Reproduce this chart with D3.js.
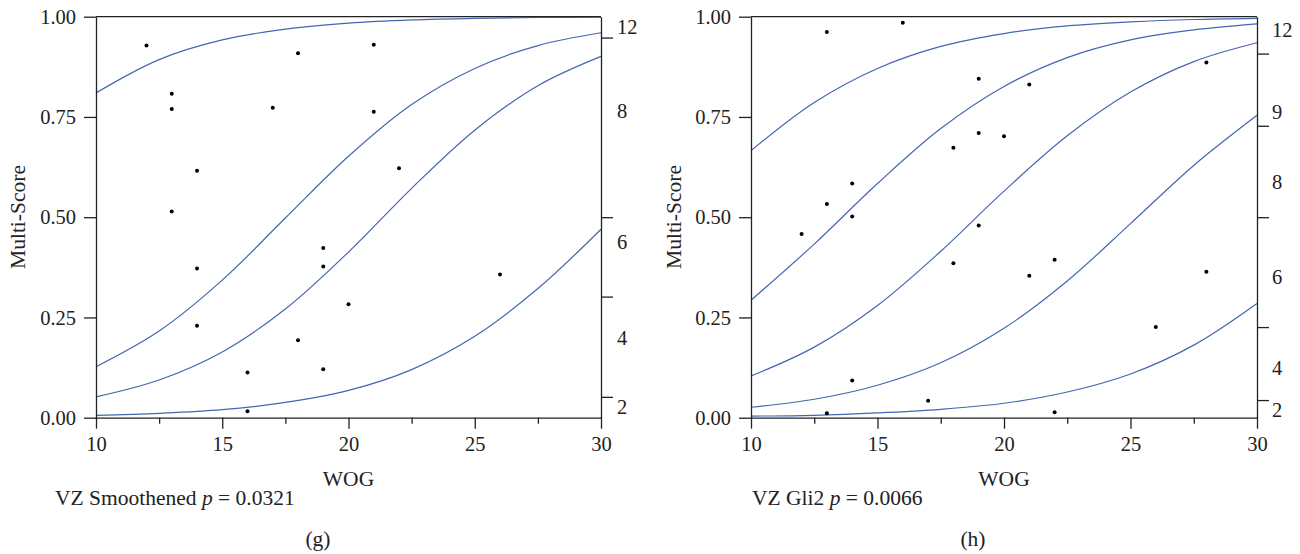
<!DOCTYPE html>
<html>
<head>
<meta charset="utf-8">
<script src="https://cdn.jsdelivr.net/npm/d3@7"></script>
<style>
  body { margin: 0; background: #fff; }
  text { font-family: "Liberation Serif", "DejaVu Serif", serif; fill: #222; }
</style>
</head>
<body>
<div id="chart"></div>
<script>
// shared axis values
const wogTicks = [10, 15, 20, 25, 30];
const wogMinor = [12.5, 17.5, 22.5, 27.5];
const scoreTicks = [0, 0.25, 0.5, 0.75, 1];
const curveX = [10, 12.5, 15, 17.5, 20, 22.5, 25, 27.5, 30];

// panel (g): VZ Smoothened
const gWog = [12, 13, 13, 13, 14, 14, 14, 16, 16, 17, 18, 18, 19, 19, 19, 20, 21, 21, 22, 26];
const gScore = [0.928, 0.808, 0.770, 0.514, 0.616, 0.372, 0.229, 0.113, 0.016, 0.773,
                0.909, 0.193, 0.423, 0.377, 0.121, 0.283, 0.930, 0.763, 0.622, 0.357];
const gCurves = [
    [0.810, 0.893, 0.942, 0.969, 0.984, 0.992, 0.996, 0.998, 0.999],
    [0.127, 0.216, 0.343, 0.498, 0.652, 0.781, 0.871, 0.928, 0.960],
    [0.052, 0.094, 0.164, 0.271, 0.413, 0.572, 0.717, 0.828, 0.901],
    [0.006, 0.011, 0.020, 0.038, 0.068, 0.120, 0.203, 0.322, 0.470]
];
const gRightTicks = [0.948, 0.5, 0.302, 0.052];
const gRightLabelPos = [0.974, 0.766, 0.438, 0.200, 0.027];
const gRightLabels = ["12", "8", "6", "4", "2"];

// panel (h): VZ Gli2
const hWog = [12, 13, 13, 13, 14, 14, 14, 16, 17, 18, 18, 19, 19, 19, 20, 21, 21, 22, 22, 26, 28, 28];
const hScore = [0.458, 0.962, 0.533, 0.011, 0.584, 0.502, 0.093, 0.985, 0.042, 0.673, 0.385,
                0.845, 0.710, 0.479, 0.702, 0.831, 0.354, 0.394, 0.0135, 0.226, 0.886, 0.364];
const hCurves = [
    [0.666, 0.786, 0.871, 0.926, 0.958, 0.977, 0.987, 0.993, 0.996],
    [0.293, 0.433, 0.584, 0.721, 0.826, 0.898, 0.942, 0.967, 0.982],
    [0.104, 0.176, 0.280, 0.415, 0.565, 0.703, 0.812, 0.888, 0.935],
    [0.026, 0.046, 0.081, 0.137, 0.223, 0.341, 0.484, 0.629, 0.754],
    [0.004, 0.006, 0.012, 0.021, 0.036, 0.064, 0.109, 0.181, 0.285]
];
const hRightTicks = [0.908, 0.728, 0.5, 0.226, 0.044];
const hRightLabelPos = [0.966, 0.762, 0.587, 0.352, 0.123, 0.019];
const hRightLabels = ["12", "9", "8", "6", "4", "2"];

const svg = d3.select('#chart')
    .append('svg')
    .attr('width', 1300)
    .attr('height', 554);

svg.append('rect').attr('width', 1300).attr('height', 554).attr('fill', '#fff');

const tickFont = 20.5;
const titleFont = 21.5;

function drawPanel(opt) {
    const x = d3.scaleLinear().domain([10, 30]).range([opt.left, opt.right]);
    const y = d3.scaleLinear().domain([0, 1]).range([417.7, 16.7]);
    const g = svg.append('g');

    // curves
    const line = d3.line()
        .x((d, i) => x(curveX[i]))
        .y(d => y(d))
        .curve(d3.curveCatmullRom.alpha(0.5));

    g.selectAll('.curve')
        .data(opt.curves)
        .enter()
        .append('path')
        .attr('class', 'curve')
        .attr('d', line)
        .attr('fill', 'none')
        .attr('stroke', '#4466b0')
        .attr('stroke-width', 1.2);

    // points
    g.selectAll('.dot')
        .data(opt.wog.map((w, i) => ({ w: w, s: opt.score[i] })))
        .enter()
        .append('circle')
        .attr('class', 'dot')
        .attr('cx', d => x(d.w))
        .attr('cy', d => y(d.s))
        .attr('r', 2)
        .attr('fill', '#000');

    // frame top
    g.append('line')
        .attr('x1', x(10)).attr('x2', x(30))
        .attr('y1', y(1)).attr('y2', y(1))
        .attr('stroke', '#222').attr('stroke-width', 1.3);

    // bottom axis
    g.append('g')
        .attr('transform', `translate(0,${y(0)})`)
        .call(d3.axisBottom(x).tickValues(wogTicks).tickSize(11).tickSizeOuter(0).tickPadding(8));
    g.append('g')
        .attr('transform', `translate(0,${y(0)})`)
        .call(d3.axisBottom(x).tickValues(wogMinor).tickSize(6).tickFormat(''))
        .select('.domain').remove();

    // left axis
    g.append('g')
        .attr('transform', `translate(${x(10)},0)`)
        .call(d3.axisLeft(y).tickValues(scoreTicks).tickFormat(d3.format('.2f'))
            .tickSize(12).tickSizeOuter(0).tickPadding(8));

    // right axis: ticks and level labels
    g.append('g')
        .attr('transform', `translate(${x(30)},0)`)
        .call(d3.axisRight(y).tickValues(opt.rightTicks).tickSize(12).tickSizeOuter(0).tickFormat(''));
    const rLabels = g.append('g')
        .attr('transform', `translate(${x(30)},0)`)
        .call(d3.axisRight(y).tickValues(opt.rightLabelPos).tickSize(0).tickPadding(opt.rightPad)
            .tickFormat((d, i) => opt.rightLabels[i]));
    rLabels.select('.domain').remove();

    g.selectAll('.domain, .tick line')
        .attr('stroke', '#222')
        .attr('stroke-width', 1.3);
    g.selectAll('.tick text')
        .style('font-family', '"Liberation Serif", serif')
        .style('font-size', tickFont + 'px')
        .attr('fill', '#222');

    // axis titles
    g.append('text')
        .attr('x', x(20))
        .attr('y', 486)
        .style('text-anchor', 'middle')
        .style('font-size', titleFont + 'px')
        .text('WOG');

    g.append('text')
        .attr('transform', 'rotate(-90)')
        .attr('x', -217)
        .attr('y', opt.yTitleX)
        .style('text-anchor', 'middle')
        .style('font-size', titleFont + 'px')
        .text('Multi-Score');

    // caption with italic p
    const cap = g.append('text')
        .attr('x', opt.capX)
        .attr('y', 505)
        .style('font-size', titleFont + 'px');
    cap.append('tspan').text(opt.capName + ' ');
    cap.append('tspan').style('font-style', 'italic').text('p');
    cap.append('tspan').text(' = ' + opt.pValue);

    g.append('text')
        .attr('x', opt.tagX)
        .attr('y', 546)
        .style('text-anchor', 'middle')
        .style('font-size', titleFont + 'px')
        .text(opt.tag);
}

drawPanel({
    left: 96, right: 601,
    curves: gCurves, wog: gWog, score: gScore,
    rightTicks: gRightTicks, rightLabelPos: gRightLabelPos, rightLabels: gRightLabels, rightPad: 16,
    yTitleX: 25, capX: 55, capName: 'VZ Smoothened', pValue: '0.0321',
    tagX: 318, tag: '(g)'
});

drawPanel({
    left: 751, right: 1257,
    curves: hCurves, wog: hWog, score: hScore,
    rightTicks: hRightTicks, rightLabelPos: hRightLabelPos, rightLabels: hRightLabels, rightPad: 15,
    yTitleX: 681, capX: 752, capName: 'VZ Gli2', pValue: '0.0066',
    tagX: 973, tag: '(h)'
});
</script>
</body>
</html>
